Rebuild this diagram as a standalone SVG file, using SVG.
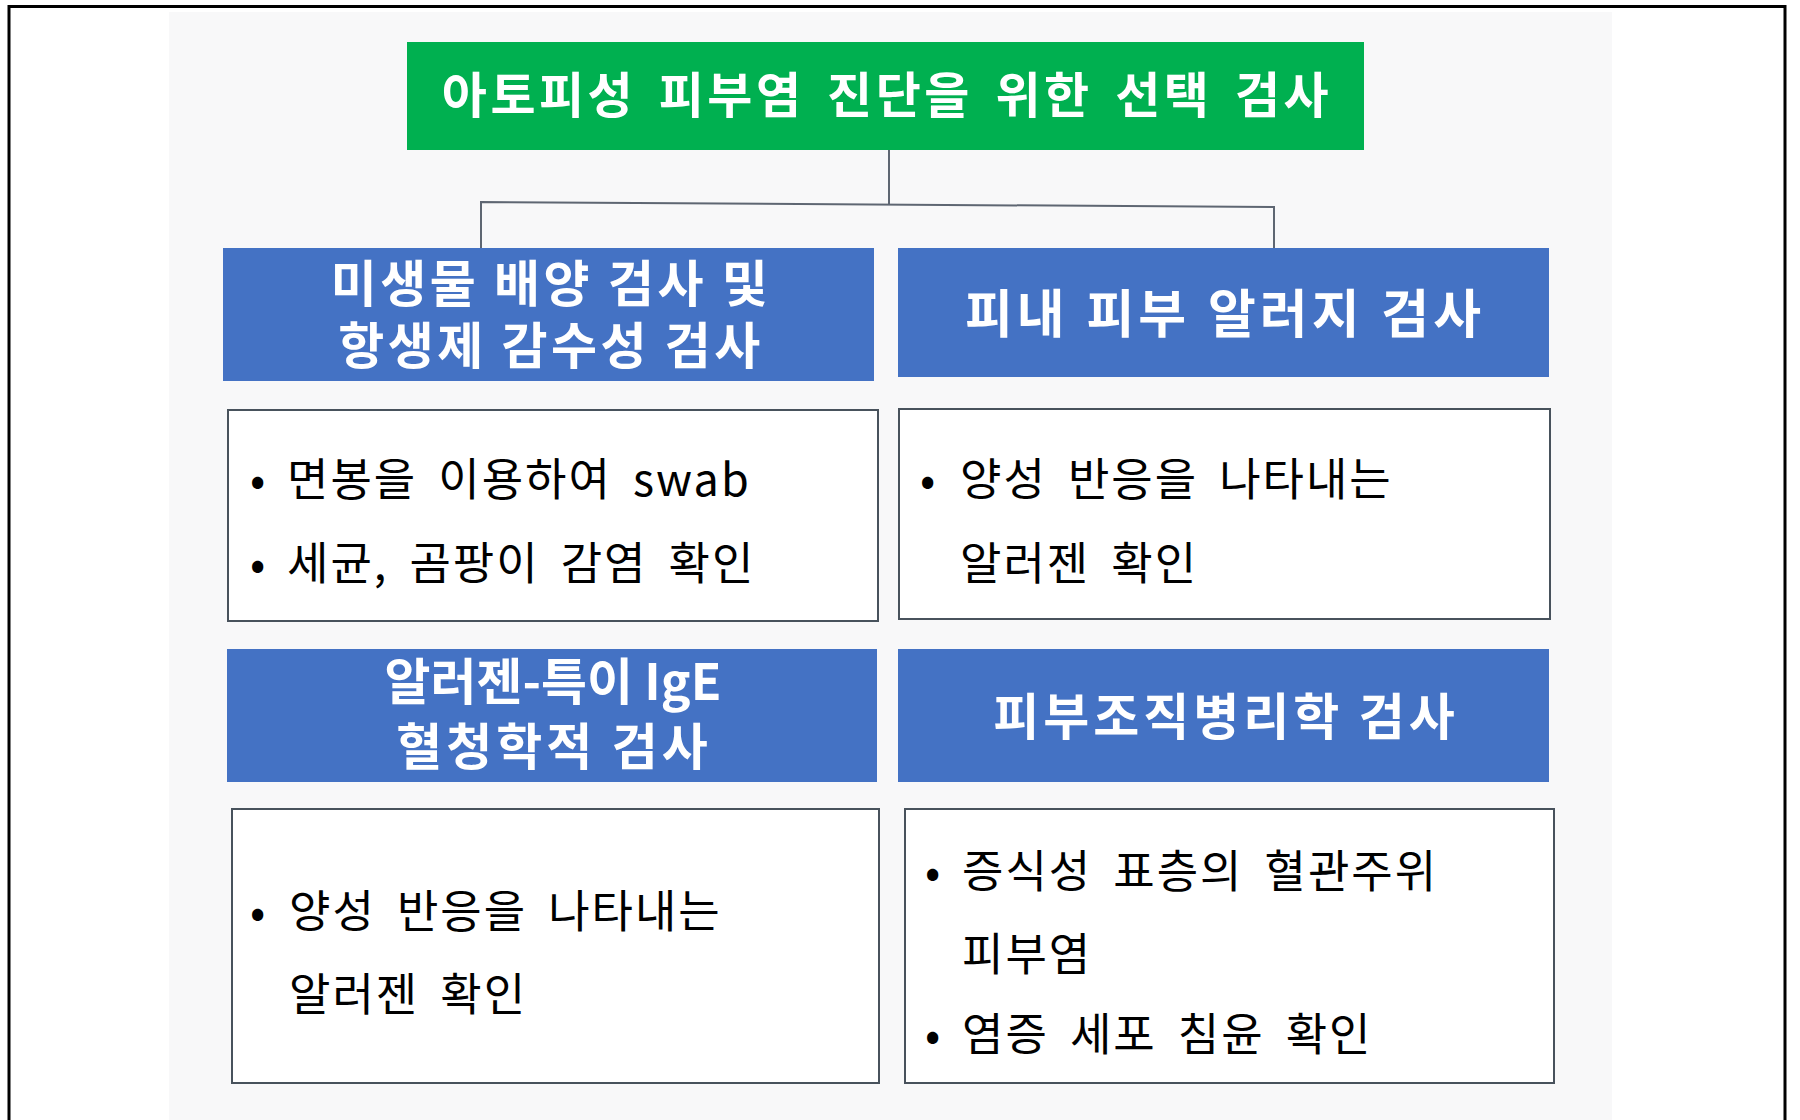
<svg xmlns="http://www.w3.org/2000/svg" width="1800" height="1120" viewBox="0 0 1800 1120">
<style>
.hdr{font-family:"Noto Sans CJK KR","Noto Sans",sans-serif;font-weight:bold;fill:#ffffff;text-anchor:middle}
.body{font-family:"Noto Sans CJK KR","Noto Sans",sans-serif;font-size:45px;fill:#000000;letter-spacing:2px;word-spacing:9px}
.blue{fill:#4472c4}
.wbox{fill:#ffffff;stroke:#48525c;stroke-width:2}
.conn{fill:none;stroke:#5e6672;stroke-width:2}
</style>
<rect x="0" y="0" width="1800" height="1120" fill="#ffffff"/>
<rect x="169" y="12" width="1443" height="1108" fill="#f8f8f9"/>
<path d="M9,1120 V6.5 H1785 V1120" fill="none" stroke="#000000" stroke-width="3"/>

<g id="connectors">
<path class="conn" d="M889,150 V204"/>
<path class="conn" d="M481,248 V202 L1274,207 V248"/>
</g>

<g id="title">
<rect x="407" y="42" width="957" height="108" fill="#00b050"/>
<text class="hdr" x="887" y="113" font-size="49" letter-spacing="3.5" word-spacing="8">아토피성 피부염 진단을 위한 선택 검사</text>
</g>

<g id="culture-header">
<rect class="blue" x="223" y="248" width="651" height="133"/>
<text class="hdr" font-size="50" letter-spacing="3.5"><tspan x="551" y="302">미생물 배양 검사 및</tspan><tspan x="551" y="364">항생제 감수성 검사</tspan></text>
</g>

<g id="intradermal-header">
<rect class="blue" x="898" y="248" width="651" height="129"/>
<text class="hdr" x="1225" y="333" font-size="52" letter-spacing="4" word-spacing="2">피내 피부 알러지 검사</text>
</g>

<g id="culture-body">
<rect class="wbox" x="228" y="410" width="650" height="211"/>
<text class="body"><tspan x="250" y="496">•</tspan><tspan x="287" y="496">면봉을 이용하여 swab</tspan></text>
<text class="body"><tspan x="250" y="580">•</tspan><tspan x="287" y="580">세균, 곰팡이 감염 확인</tspan></text>
</g>

<g id="intradermal-body">
<rect class="wbox" x="899" y="409" width="651" height="210"/>
<text class="body"><tspan x="920" y="496">•</tspan><tspan x="960" y="496">양성 반응을 나타내는</tspan></text>
<text class="body" x="960" y="580">알러젠 확인</text>
</g>

<g id="ige-header">
<rect class="blue" x="227" y="649" width="650" height="133"/>
<text class="hdr" font-size="50"><tspan x="553" y="700">알러젠-특이 IgE</tspan><tspan x="554" y="765" letter-spacing="4">혈청학적 검사</tspan></text>
</g>

<g id="histo-header">
<rect class="blue" x="898" y="649" width="651" height="133"/>
<text class="hdr" x="1226" y="735" font-size="50" letter-spacing="4">피부조직병리학 검사</text>
</g>

<g id="ige-body">
<rect class="wbox" x="232" y="809" width="647" height="274"/>
<text class="body"><tspan x="250" y="928">•</tspan><tspan x="289" y="928">양성 반응을 나타내는</tspan></text>
<text class="body" x="289" y="1011">알러젠 확인</text>
</g>

<g id="histo-body">
<rect class="wbox" x="905" y="809" width="649" height="274"/>
<text class="body"><tspan x="925" y="888">•</tspan><tspan x="962" y="888">증식성 표층의 혈관주위</tspan></text>
<text class="body" x="962" y="971">피부염</text>
<text class="body"><tspan x="925" y="1051">•</tspan><tspan x="962" y="1051">염증 세포 침윤 확인</tspan></text>
</g>
</svg>
